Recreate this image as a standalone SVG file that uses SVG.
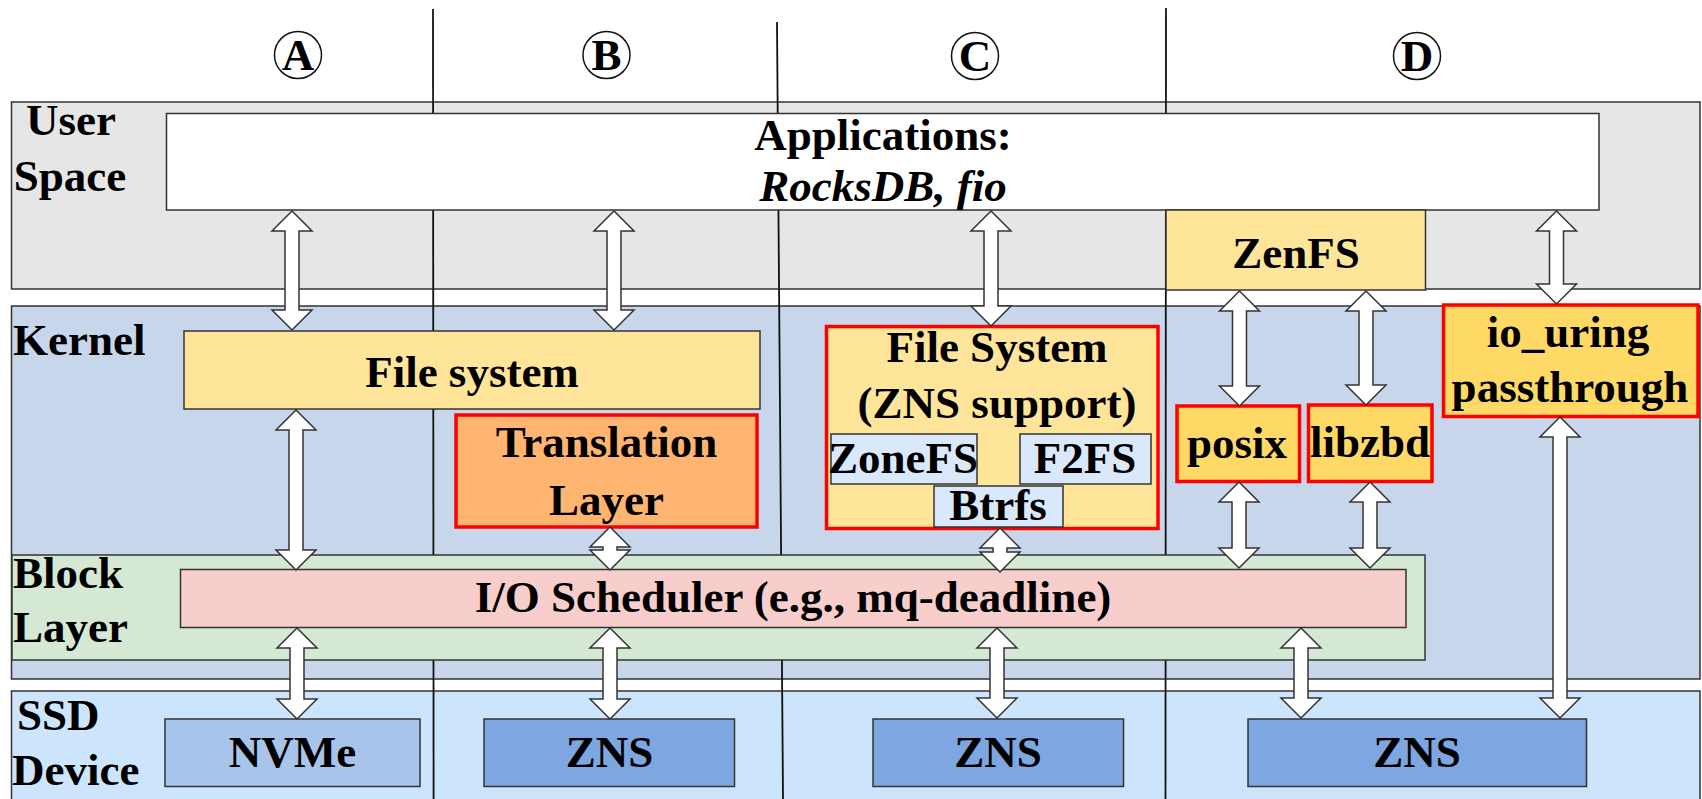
<svg xmlns="http://www.w3.org/2000/svg" width="1702" height="799" viewBox="0 0 1702 799">
  <style>
    text { font-family: "Liberation Serif", "Times New Roman", serif; font-weight: bold; font-size: 45px; fill: #000; }
    .mid { text-anchor: middle; }
    .band { stroke: #333; stroke-width: 1.5; }
    .box { stroke: #333; stroke-width: 1.5; }
    .hot { stroke: #ff0000; stroke-width: 3.5; }
    .divider { stroke: #111; stroke-width: 1.8; fill: none; }
    .mark { fill: none; stroke: #111; stroke-width: 1.5; }
    .arrow { fill: #fff; stroke: #333; stroke-width: 1.5; stroke-linejoin: miter; }
  </style>

  <rect width="1702" height="799" fill="#fff"/>

  <!-- layer bands -->
  <g id="user-space">
    <rect class="band" x="11.5" y="102" width="1688.5" height="187" fill="#e6e6e6"/>
    <text class="mid" x="71" y="135">User</text>
    <text class="mid" x="70" y="191">Space</text>
  </g>
  <g id="kernel">
    <rect class="band" x="11.5" y="306" width="1688.5" height="373" fill="#c8d6eb"/>
    <text x="13" y="355">Kernel</text>
  </g>
  <g id="ssd-device">
    <rect class="band" x="11.5" y="691" width="1688.5" height="120" fill="#cce4fc"/>
    <text x="17" y="730">SSD</text>
    <text x="12" y="785">Device</text>
  </g>

  <!-- column dividers -->
  <g id="dividers">
    <line class="divider" x1="433" y1="9" x2="433.6" y2="799"/>
    <line class="divider" x1="777" y1="22" x2="783" y2="799"/>
    <line class="divider" x1="1166" y1="8" x2="1165.5" y2="799"/>
  </g>

  <!-- column markers -->
  <g id="col-a">
    <circle class="mark" cx="298" cy="55" r="23.5"/>
    <text class="mid" x="298" y="70" font-size="42">A</text>
  </g>
  <g id="col-b">
    <circle class="mark" cx="606.5" cy="55" r="23.5"/>
    <text class="mid" x="606.5" y="70" font-size="42">B</text>
  </g>
  <g id="col-c">
    <circle class="mark" cx="975" cy="56" r="23.5"/>
    <text class="mid" x="975" y="71" font-size="42">C</text>
  </g>
  <g id="col-d">
    <circle class="mark" cx="1417" cy="56" r="23.5"/>
    <text class="mid" x="1417" y="71" font-size="42">D</text>
  </g>

  <g id="block-layer">
    <rect class="band" x="12" y="555" width="1413" height="105" fill="#d5e8d4"/>
    <text x="13" y="588">Block</text>
    <text x="13" y="642">Layer</text>
  </g>
  <g id="io-scheduler">
    <rect class="box" x="180.5" y="569.5" width="1225.5" height="58" fill="#f8cecc"/>
    <text class="mid" x="793" y="612" font-size="43">I/O Scheduler (e.g., mq-deadline)</text>
  </g>

  <!-- user space -->
  <g id="applications">
    <rect class="box" x="166.5" y="113.5" width="1432.5" height="96.5" fill="#fff"/>
    <text class="mid" x="883" y="150">Applications:</text>
    <text class="mid" x="883" y="201" font-style="italic">RocksDB, fio</text>
  </g>
  <g id="zenfs">
    <rect class="box" x="1166" y="210" width="259.5" height="80" fill="#ffe599"/>
    <text class="mid" x="1296" y="268">ZenFS</text>
  </g>

  <!-- kernel -->
  <g id="file-system">
    <rect class="box" x="184" y="331" width="576" height="78" fill="#ffe599"/>
    <text class="mid" x="472" y="387">File system</text>
  </g>
  <g id="translation-layer">
    <rect class="hot" x="456" y="415" width="301" height="112" fill="#ffb570"/>
    <text class="mid" x="606.5" y="457">Translation</text>
    <text class="mid" x="606.5" y="515">Layer</text>
  </g>
  <g id="fs-zns">
    <rect class="hot" x="826.5" y="326.5" width="331.5" height="202" fill="#ffe599"/>
    <text class="mid" x="997" y="362">File System</text>
    <text class="mid" x="997" y="418">(ZNS support)</text>
  </g>
  <g id="zonefs">
    <rect class="box" x="831" y="434" width="146" height="50" fill="#dae8fc"/>
    <text class="mid" x="903" y="473" font-size="44">ZoneFS</text>
  </g>
  <g id="f2fs">
    <rect class="box" x="1020" y="434" width="131" height="50" fill="#dae8fc"/>
    <text class="mid" x="1085" y="473">F2FS</text>
  </g>
  <g id="btrfs">
    <rect class="box" x="934" y="486" width="129" height="41" fill="#dae8fc"/>
    <text class="mid" x="998" y="520">Btrfs</text>
  </g>
  <g id="posix">
    <rect class="hot" x="1177" y="406" width="122.5" height="75.5" fill="#ffd966"/>
    <text class="mid" x="1237" y="458">posix</text>
  </g>
  <g id="libzbd">
    <rect class="hot" x="1308.5" y="405" width="123.5" height="76.5" fill="#ffd966"/>
    <text class="mid" x="1370" y="457">libzbd</text>
  </g>
  <g id="io-uring">
    <rect class="hot" x="1443.5" y="305" width="254.5" height="111.5" fill="#ffd966"/>
    <text class="mid" x="1568" y="347">io_uring</text>
    <text class="mid" x="1570" y="402">passthrough</text>
  </g>

  <!-- devices -->
  <g id="nvme">
    <rect class="box" x="165" y="719" width="255" height="67.5" fill="#a9c4eb"/>
    <text class="mid" x="292.5" y="767">NVMe</text>
  </g>
  <g id="zns-b">
    <rect class="box" x="484" y="719" width="250.5" height="67.5" fill="#7ea6e0"/>
    <text class="mid" x="609.5" y="767">ZNS</text>
  </g>
  <g id="zns-c">
    <rect class="box" x="873" y="719" width="250.5" height="67.5" fill="#7ea6e0"/>
    <text class="mid" x="998" y="767">ZNS</text>
  </g>
  <g id="zns-d">
    <rect class="box" x="1248" y="719" width="338.5" height="67.5" fill="#7ea6e0"/>
    <text class="mid" x="1417" y="767">ZNS</text>
  </g>

  <!-- double-headed block arrows -->
  <g id="connectors" class="arrow">
    <path d="M292,211 L312,231 L299,231 L299,310 L312,310 L292,330 L272,310 L285,310 L285,231 L272,231 Z"/>
    <path d="M614,211 L634,231 L621,231 L621,310 L634,310 L614,330 L594,310 L607,310 L607,231 L594,231 Z"/>
    <path d="M991,211 L1011,231 L998,231 L998,306 L1011,306 L991,326 L971,306 L984,306 L984,231 L971,231 Z"/>
    <path d="M1556.5,211 L1576.5,231 L1563.5,231 L1563.5,284 L1576.5,284 L1556.5,304 L1536.5,284 L1549.5,284 L1549.5,231 L1536.5,231 Z"/>
    <path d="M1239.5,291 L1259.5,311 L1246.5,311 L1246.5,386 L1259.5,386 L1239.5,406 L1219.5,386 L1232.5,386 L1232.5,311 L1219.5,311 Z"/>
    <path d="M1366,291 L1386,311 L1373,311 L1373,385 L1386,385 L1366,405 L1346,385 L1359,385 L1359,311 L1346,311 Z"/>
    <path d="M296,410 L316,430 L303,430 L303,550 L316,550 L296,570 L276,550 L289,550 L289,430 L276,430 Z"/>
    <path d="M610,527 L630,547 L617,547 L617,550 L630,550 L610,570 L590,550 L603,550 L603,547 L590,547 Z"/>
    <path d="M1000,528 L1020,548 L1007,548 L1007,552 L1020,552 L1000,572 L980,552 L993,552 L993,548 L980,548 Z"/>
    <path d="M1239,482 L1259,502 L1246,502 L1246,548 L1259,548 L1239,568 L1219,548 L1232,548 L1232,502 L1219,502 Z"/>
    <path d="M1370,482 L1390,502 L1377,502 L1377,548 L1390,548 L1370,568 L1350,548 L1363,548 L1363,502 L1350,502 Z"/>
    <path d="M1560,417 L1580,437 L1567,437 L1567,698 L1580,698 L1560,718 L1540,698 L1553,698 L1553,437 L1540,437 Z"/>
    <path d="M297,628 L317,648 L304,648 L304,699 L317,699 L297,719 L277,699 L290,699 L290,648 L277,648 Z"/>
    <path d="M610,628 L630,648 L617,648 L617,699 L630,699 L610,719 L590,699 L603,699 L603,648 L590,648 Z"/>
    <path d="M997,628 L1017,648 L1004,648 L1004,698 L1017,698 L997,718 L977,698 L990,698 L990,648 L977,648 Z"/>
    <path d="M1301,628 L1321,648 L1308,648 L1308,698 L1321,698 L1301,718 L1281,698 L1294,698 L1294,648 L1281,648 Z"/>
  </g>
</svg>
